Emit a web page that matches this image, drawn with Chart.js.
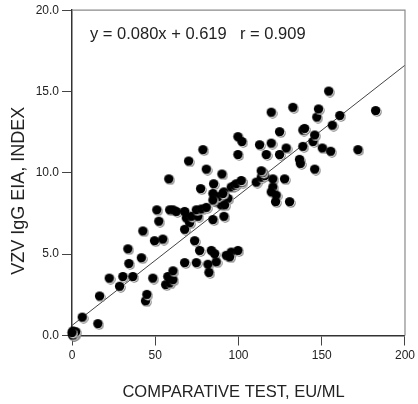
<!DOCTYPE html>
<html>
<head>
<meta charset="utf-8">
<script src="https://cdn.jsdelivr.net/npm/chart.js@4"></script>
<style>
  html, body { margin: 0; padding: 0; background: #fff; }
  #wrap { width: 418px; height: 404px; }
</style>
</head>
<body>
<div id="wrap"><canvas id="scatterChart" width="418" height="404"></canvas></div>
<script>
// data
const compTest = [0.5, 1.5, 0.8, 2, 1, 2.5, 0.3, 6.4, 15.8, 16.8, 22.6, 28.8, 30.8, 36.8, 34.4, 33.8, 41.9, 42.8,
    44.4, 45.2, 48.8, 49.8, 54.8, 52.4, 51.2, 56.5, 57.8, 58.9, 60.9, 60.9, 58.4, 58.9, 60.9, 62.9, 67.9, 68.9,
    70.9, 67.9, 73.9, 67.9, 74.9, 71.9, 75.9, 74.9, 77.9, 80.9, 76.9, 83.9, 85.9, 81.9, 82.5, 86.9, 92.9, 95.9,
    99.9, 94.9, 84.9, 91.5, 70.3, 78.9, 80.9, 90.3, 77.5, 85.3, 84.9, 86.9, 89.9, 91.5, 93.9, 88, 90.9, 91.9, 84.9,
    95.9, 97.9, 98.9, 102.3, 101.9, 99.9, 99.9, 102.3, 110.9, 113.9, 115.9, 114.9, 113.9, 116.9, 112.9, 119.9,
    119.9, 120.9, 120.9, 119.9, 122.9, 122.5, 127.9, 130.9, 124.9, 124.9, 128.9, 132.9, 136.9, 137.4, 138.9,
    138.9, 139.9, 145, 146, 146, 147.3, 148.3, 150.6, 155.6, 154.4, 156.6, 161.1, 172, 182.6];
const vzvIndex = [0.0, 0.1, 0.25, 0.05, 0.0, 0.2, 0.15, 1.1, 0.7, 2.4, 3.5, 3.0, 3.6, 3.6, 4.4, 5.3, 4.75, 6.4,
    2.1, 2.5, 3.5, 5.8, 5.9, 7.0, 7.7, 3.1, 3.6, 3.2, 3.4, 3.95, 9.6, 7.7, 7.7, 7.6, 7.6, 7.2,
    6.9, 6.5, 5.8, 4.45, 4.45, 7.3, 7.3, 7.7, 7.75, 7.85, 5.2, 5.2, 5.0, 4.35, 3.85, 4.5, 4.9, 5.1,
    5.2, 4.8, 7.1, 7.3, 10.7, 11.4, 10.2, 9.9, 9.0, 9.3, 8.7, 8.2, 8.0, 8.8, 8.4, 8.5, 8.7, 8.0, 8.3,
    9.1, 9.2, 9.3, 9.4, 9.5, 11.1, 12.2, 11.9, 9.4, 9.7, 9.8, 10.0, 10.1, 11.1, 11.7, 11.8,
    13.7, 9.6, 9.1, 8.8, 8.6, 8.2, 9.6, 8.2, 11.1, 12.5, 11.5, 14.0, 10.8, 10.55, 11.6,
    12.6, 12.7, 11.9, 12.3, 10.2, 13.4, 13.9, 11.5, 11.3, 15.0, 12.9, 13.5, 11.4, 13.8];

const slope = 0.080;
const intercept = 0.619;
const rValue = 0.909;
const xTicks = [0, 50, 100, 150, 200];
const yTicks = [0, 5, 10, 15, 20];

const points = compTest.map((x, i) => ({ x: x, y: vzvIndex[i] }));
const fitLine = [
    { x: xTicks[0], y: intercept + slope * xTicks[0] },
    { x: xTicks[xTicks.length - 1], y: intercept + slope * xTicks[xTicks.length - 1] }
];

// black ball with a light rim at the lower right
function makeDot() {
    const c = document.createElement('canvas');
    c.width = 12; c.height = 12;
    const g = c.getContext('2d');
    g.fillStyle = '#7a7a7a';
    g.beginPath(); g.arc(6.9, 6.9, 4.8, 0, Math.PI * 2); g.fill();
    g.fillStyle = '#ffffff';
    g.beginPath(); g.arc(6.3, 6.3, 4.6, 0, Math.PI * 2); g.fill();
    g.fillStyle = '#000000';
    g.beginPath(); g.arc(5.6, 5.6, 4.7, 0, Math.PI * 2); g.fill();
    return c;
}

const textColor = '#222';
const fontFamily = '"Liberation Sans", Arial, sans-serif';

const extrasPlugin = {
    id: 'extras',
    afterDraw(chart) {
        const ctx = chart.ctx;
        const a = chart.chartArea;
        ctx.save();
        // box on top and right
        ctx.strokeStyle = '#8a8a8a';
        ctx.lineWidth = 1.2;
        ctx.beginPath();
        ctx.moveTo(a.left, a.top);
        ctx.lineTo(a.right, a.top);
        ctx.lineTo(a.right, a.bottom);
        ctx.stroke();

        ctx.fillStyle = textColor;
        ctx.font = '16.5px ' + fontFamily;
        ctx.textBaseline = 'middle';
        ctx.textAlign = 'left';
        ctx.fillText('y = ' + slope.toFixed(3) + 'x + ' + intercept.toFixed(3), a.left + 18, a.top + 24);
        ctx.fillText('r = ' + rValue.toFixed(3), a.left + 168, a.top + 24);

        ctx.textAlign = 'center';
        ctx.fillText('COMPARATIVE TEST, EU/ML', (a.left + a.right) / 2 - 5, 392);
        ctx.font = '18px ' + fontFamily;
        ctx.translate(19, (a.top + a.bottom) / 2 + 18);
        ctx.rotate(-Math.PI / 2);
        ctx.fillText('VZV IgG EIA, INDEX', 0, 0);
        ctx.restore();
    }
};

new Chart(document.getElementById('scatterChart'), {
    type: 'scatter',
    data: {
        datasets: [{
            label: 'fit',
            type: 'line',
            data: fitLine,
            borderColor: '#444',
            borderWidth: 1,
            pointRadius: 0,
            fill: false,
            order: 2
        }, {
            label: 'samples',
            data: points,
            pointStyle: makeDot(),
            pointRadius: 5,
            clip: false,
            order: 1
        }]
    },
    options: {
        responsive: false,
        animation: false,
        layout: { padding: { top: 9.5, right: 13, left: 0, bottom: 0 } },
        plugins: { legend: { display: false }, tooltip: { enabled: false } },
        scales: {
            x: {
                type: 'linear',
                min: 0, max: 200,
                afterBuildTicks: s => { s.ticks = xTicks.map(v => ({ value: v })); },
                afterFit: s => { s.height = 68.5; },
                ticks: { color: textColor, font: { size: 12, family: fontFamily }, padding: 3 },
                grid: { drawOnChartArea: false, tickLength: 10, color: '#444', lineWidth: 1 },
                border: { color: '#333', width: 1.5 }
            },
            y: {
                min: 0, max: 20,
                afterBuildTicks: s => { s.ticks = yTicks.map(v => ({ value: v })); },
                afterFit: s => { s.width = 72; },
                ticks: { color: textColor, font: { size: 12, family: fontFamily }, padding: 3,
                    callback: v => v.toFixed(1) },
                grid: { drawOnChartArea: false, tickLength: 10, color: '#444', lineWidth: 1 },
                border: { color: '#333', width: 1.5 }
            }
        }
    },
    plugins: [extrasPlugin]
});
</script>
</body>
</html>
